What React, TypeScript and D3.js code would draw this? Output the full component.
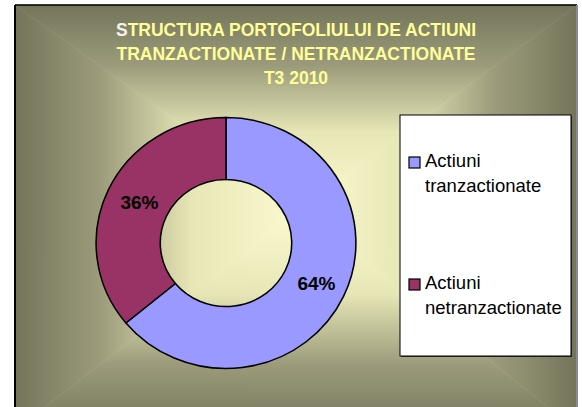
import React from "react";
import * as d3 from "d3";

const categories = ["Actiuni tranzactionate", "Actiuni netranzactionate"];
const legendLines = [["Actiuni", "tranzactionate"], ["Actiuni", "netranzactionate"]];
const values = [64, 36];
const colors = ["#9999ff", "#993366"];
const titleLines = ["STRUCTURA PORTOFOLIULUI DE ACTIUNI", "TRANZACTIONATE / NETRANZACTIONATE", "T3 2010"];

const W = 582, H = 407;
const frame = { x0: 15, y0: 5, x1: 577, y1: 430 };
const center = { x: 300, y: 210 };
const cx = 226, cy = 243, rOuter = 125.5, rInner = 63.5, xStretch = 1.035;

export default function App() {
  const pie = d3.pie<number>().value((d) => d).sort(null).startAngle(0).endAngle(2 * Math.PI);
  const arcs = pie(values);
  const arc = d3.arc<d3.PieArcDatum<number>>().innerRadius(rInner).outerRadius(rOuter);
  const total = d3.sum(values);

  const stops = [
    [0, "#74745a"],
    [0.3, "#9c9c7c"],
    [0.62, "#e6e6b6"],
    [1, "#fbfbd0"],
  ];
  const tris = [
    { id: "gT", pts: [[frame.x0, frame.y0], [frame.x1, frame.y0], [center.x, center.y]], g: [center.x, frame.y0, center.x, center.y] },
    { id: "gB", pts: [[frame.x0, frame.y1], [frame.x1, frame.y1], [center.x, center.y]], g: [center.x, frame.y1, center.x, center.y] },
    { id: "gL", pts: [[frame.x0, frame.y0], [frame.x0, frame.y1], [center.x, center.y]], g: [frame.x0, center.y, center.x, center.y] },
    { id: "gR", pts: [[frame.x1, frame.y0], [frame.x1, frame.y1], [center.x, center.y]], g: [frame.x1, center.y, center.x, center.y] },
  ];

  return (
    <svg width={W} height={H} style={{ position: "absolute", left: 0, top: 0 }} fontFamily="'Liberation Sans', Arial, sans-serif">
      <defs>
        {tris.map((t) => (
          <linearGradient key={t.id} id={t.id} gradientUnits="userSpaceOnUse" x1={t.g[0]} y1={t.g[1]} x2={t.g[2]} y2={t.g[3]}>
            {stops.map((s, k) => (
              <stop key={k} offset={s[0] as number} stopColor={s[1] as string} />
            ))}
          </linearGradient>
        ))}
      </defs>
      <rect x={0} y={0} width={W} height={H} fill="#fff" />
      {tris.map((t) => (
        <polygon key={t.id} points={t.pts.map((p) => p.join(",")).join(" ")} fill={`url(#${t.id})`} stroke={`url(#${t.id})`} strokeWidth={0.6} />
      ))}
      <line x1={frame.x0} y1={frame.y0} x2={frame.x1} y2={frame.y0} stroke="#000" strokeWidth={1.5} />
      <line x1={frame.x0} y1={frame.y0} x2={frame.x0} y2={H} stroke="#000" strokeWidth={2} />
      <line x1={frame.x1} y1={frame.y0} x2={frame.x1} y2={H} stroke="#8a8a8a" strokeWidth={2} />

      {titleLines.map((t, i) => (
        <text key={i} x={296} y={36 + i * 24} textAnchor="middle" fontWeight="bold" fontSize={17.5} fill="#ffff99">
          {i === 0 ? (<><tspan fill="#f4f4e8">{t[0]}</tspan>{t.slice(1)}</>) : t}
        </text>
      ))}

      <g transform={`translate(${cx},${cy}) scale(${xStretch},1)`}>
        {arcs.map((a, i) => (
          <path key={i} d={arc(a) || ""} fill={colors[i]} stroke="#000" strokeWidth={1.5} />
        ))}
      </g>
      {arcs.map((a, i) => {
        const [x, y] = arc.centroid(a);
        return (
          <text key={i} x={cx + x * xStretch + 2} y={cy + y} textAnchor="middle" dominantBaseline="central" fontWeight="bold" fontSize={19} fill="#000">
            {`${Math.round((values[i] / total) * 100)}%`}
          </text>
        );
      })}

      <rect x={401} y={116} width={171} height={241} fill="#333" />
      <rect x={400} y={115} width={171} height={241} fill="#fff" stroke="#000" strokeWidth={1} />
      {categories.map((c, i) => {
        const y0 = 157 + i * 122;
        return (
          <g key={c}>
            <rect x={409} y={y0} width={11} height={11} fill={colors[i]} stroke="#000" strokeWidth={1.2} />
            {legendLines[i].map((l, j) => (
              <text key={j} x={425} y={y0 + 10 + j * 24.5} fontSize={18.5} fill="#000">{l}</text>
            ))}
          </g>
        );
      })}
    </svg>
  );
}
